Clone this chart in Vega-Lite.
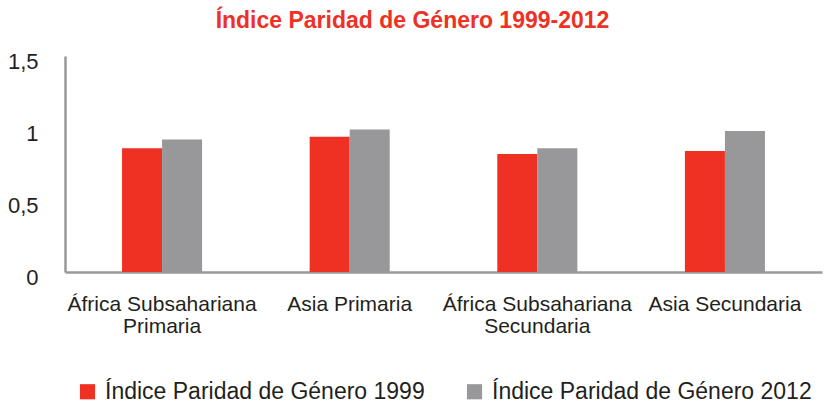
{
  "$schema": "https://vega.github.io/schema/vega-lite/v6.json",
  "width": 757,
  "height": 216,
  "autosize": {"type": "none"},
  "padding": {"left": 65, "top": 56, "right": 6, "bottom": 133},
  "background": "white",
  "title": {
    "text": "Índice Paridad de Género 1999-2012",
    "color": "#EE3124",
    "font": "Liberation Sans",
    "fontSize": 23,
    "fontWeight": "bold",
    "anchor": "middle",
    "offset": 17,
    "dx": -31
  },
  "data": {
    "values": [
      {"region": "África Subsahariana Primaria", "serie": "Índice Paridad de Género 1999", "valor": 0.86},
      {"region": "África Subsahariana Primaria", "serie": "Índice Paridad de Género 2012", "valor": 0.92},
      {"region": "Asia Primaria", "serie": "Índice Paridad de Género 1999", "valor": 0.94},
      {"region": "Asia Primaria", "serie": "Índice Paridad de Género 2012", "valor": 0.99},
      {"region": "África Subsahariana Secundaria", "serie": "Índice Paridad de Género 1999", "valor": 0.82},
      {"region": "África Subsahariana Secundaria", "serie": "Índice Paridad de Género 2012", "valor": 0.86},
      {"region": "Asia Secundaria", "serie": "Índice Paridad de Género 1999", "valor": 0.84},
      {"region": "Asia Secundaria", "serie": "Índice Paridad de Género 2012", "valor": 0.98}
    ]
  },
  "mark": {"type": "bar"},
  "encoding": {
    "x": {
      "field": "region",
      "type": "nominal",
      "sort": ["África Subsahariana Primaria", "Asia Primaria", "África Subsahariana Secundaria", "Asia Secundaria"],
      "scale": {"paddingInner": 0.5733, "paddingOuter": 0.304},
      "axis": {
        "title": null,
        "labelAngle": 0,
        "ticks": false,
        "domainColor": "#999999",
        "domainWidth": 2.5,
        "labelFont": "Liberation Sans",
        "labelFontSize": 21,
        "labelColor": "#231F20",
        "labelPadding": 21,
        "labelLineHeight": 22,
        "labelLimit": 300,
        "labelExpr": "datum.label == 'África Subsahariana Primaria' ? ['África Subsahariana', 'Primaria'] : datum.label == 'África Subsahariana Secundaria' ? ['África Subsahariana', 'Secundaria'] : datum.label"
      }
    },
    "xOffset": {
      "field": "serie",
      "type": "nominal",
      "scale": {"paddingInner": 0, "paddingOuter": 0}
    },
    "y": {
      "field": "valor",
      "type": "quantitative",
      "scale": {"domain": [0, 1.5]},
      "axis": {
        "title": null,
        "values": [0, 0.5, 1, 1.5],
        "grid": false,
        "ticks": false,
        "domainColor": "#999999",
        "domainWidth": 2.5,
        "labelFont": "Liberation Sans",
        "labelFontSize": 22,
        "labelColor": "#231F20",
        "labelPadding": 27,
        "labelOffset": 5,
        "labelExpr": "replace(toString(datum.value), '.', ',')"
      }
    },
    "color": {
      "field": "serie",
      "type": "nominal",
      "scale": {"range": ["#EF3124", "#98989A"]},
      "legend": {
        "title": null,
        "orient": "none",
        "direction": "horizontal",
        "legendX": 11,
        "legendY": 324,
        "symbolType": "square",
        "symbolSize": 230,
        "symbolStrokeWidth": 0,
        "labelFont": "Liberation Sans",
        "labelFontSize": 23,
        "labelColor": "#231F20",
        "labelLimit": 400,
        "columnPadding": 38,
        "labelOffset": 6
      }
    }
  },
  "config": {"view": {"stroke": null}}
}
